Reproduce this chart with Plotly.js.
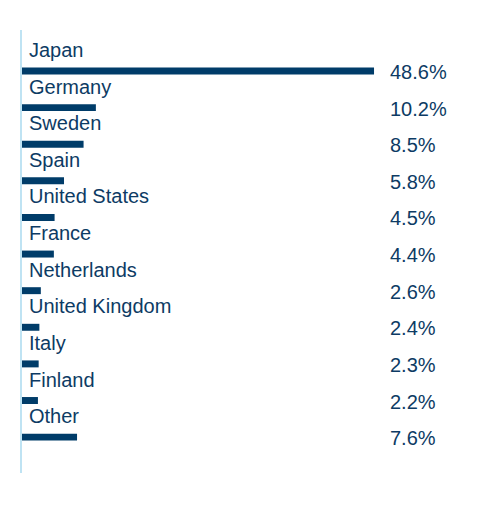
<!DOCTYPE html>
<html>
<head>
<meta charset="utf-8">
<script src="https://cdn.plot.ly/plotly-3.0.1.min.js"></script>
<style>
  html, body { margin: 0; padding: 0; background: #fff; }
  #chart { width: 480px; height: 528px; }
</style>
</head>
<body>
<div id="chart"></div>
<script>
// share of total, in percent
const countries = ['Japan', 'Germany', 'Sweden', 'Spain', 'United States', 'France',
    'Netherlands', 'United Kingdom', 'Italy', 'Finland', 'Other'];
const shares = [48.6, 10.2, 8.5, 5.8, 4.5, 4.4, 2.6, 2.4, 2.3, 2.2, 7.6];

const barColor = '#003c69';
const textColor = '#0d3b64';
const labelFont = { family: 'Liberation Sans, Arial, sans-serif', size: 20, color: textColor };

const idx = countries.map((c, i) => i);

const trace = {
    type: 'bar',
    orientation: 'h',
    x: shares,
    y: idx,
    width: 0.19,
    marker: { color: barColor },
    hoverinfo: 'skip'
};

let annotations = [];
countries.forEach((c, i) => {
    annotations.push({
        x: 0, y: i, xref: 'x', yref: 'y',
        text: c, showarrow: false,
        xanchor: 'left', yanchor: 'middle',
        xshift: 5, yshift: 21,
        font: labelFont
    });
    annotations.push({
        x: 0.818, y: i, xref: 'paper', yref: 'y',
        text: shares[i].toFixed(1) + '%', showarrow: false,
        xanchor: 'left', yanchor: 'middle',
        yshift: -1,
        font: labelFont
    });
});

const layout = {
    width: 480,
    height: 528,
    margin: { l: 22, r: 10, t: 30, b: 55 },
    paper_bgcolor: '#fff',
    plot_bgcolor: '#fff',
    showlegend: false,
    xaxis: {
        range: [0, 61.85],
        visible: false,
        fixedrange: true
    },
    yaxis: {
        range: [10.98, -1.12],
        showticklabels: false,
        showgrid: false,
        zeroline: false,
        ticks: '',
        showline: true,
        linecolor: '#bfe3f3',
        linewidth: 2,
        fixedrange: true
    },
    annotations: annotations
};

Plotly.newPlot('chart', [trace], layout, { displayModeBar: false, staticPlot: true });
</script>
</body>
</html>
